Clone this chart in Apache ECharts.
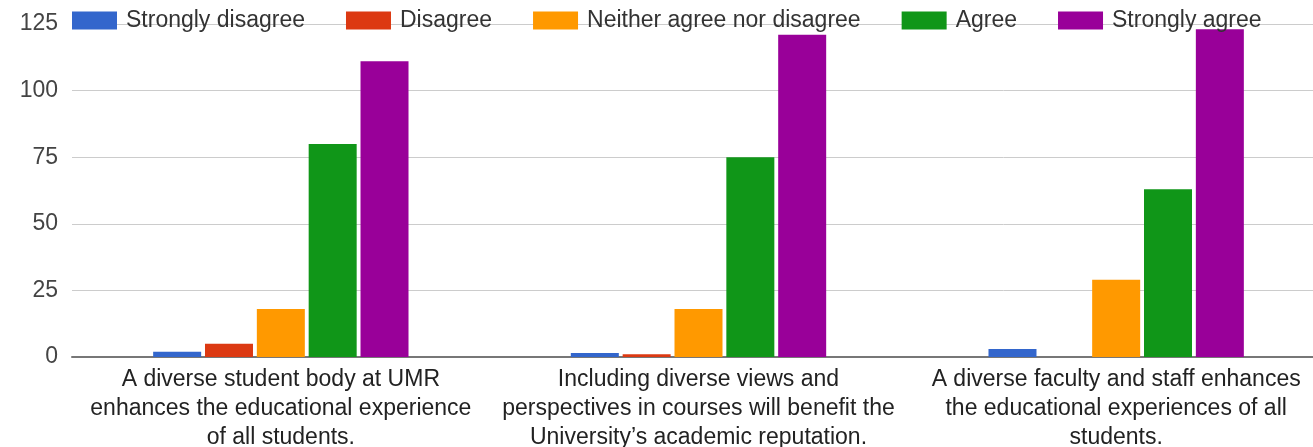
<!DOCTYPE html>
<html>
<head>
<meta charset="utf-8">
<script src="https://cdn.jsdelivr.net/npm/echarts@6/dist/echarts.min.js"></script>
<style>
  html, body { margin: 0; padding: 0; background: #fff; }
  #chart { width: 1313px; height: 447px; }
</style>
</head>
<body>
<div id="chart"></div>
<script>
// Survey statements (x-axis categories), with their line breaks
const categories = [
  'A diverse student body at UMR\nenhances the educational experience\nof all students.',
  'Including diverse views and\nperspectives in courses will benefit the\nUniversity\u2019s academic reputation.',
  'A diverse faculty and staff enhances\nthe educational experiences of all\nstudents.'
];

// Response counts per answer option
const stronglyDisagree = [2, 1.5, 3];
const disagree = [5, 1, 0];
const neither = [18, 18, 29];
const agree = [80, 75, 63];
const stronglyAgree = [111, 121, 123];

const seriesNames = ['Strongly disagree', 'Disagree', 'Neither agree nor disagree', 'Agree', 'Strongly agree'];
const seriesColors = ['#3366cc', '#dc3912', '#ff9900', '#109618', '#990099'];
const seriesData = [stronglyDisagree, disagree, neither, agree, stronglyAgree];

// Value axis ticks
const yMin = 0, yMax = 125, yStep = 25;

const FONT = 'Liberation Sans, Arial, sans-serif';

const chart = echarts.init(document.getElementById('chart'), null, { renderer: 'canvas' });

chart.setOption({
  animation: false,
  backgroundColor: '#fff',
  textStyle: { fontFamily: FONT },
  legend: {
    top: 9,
    left: 72,
    padding: 0,
    itemWidth: 45,
    itemHeight: 18,
    itemGap: 41,
    icon: 'rect',
    textStyle: { fontSize: 23, color: '#333', fontFamily: FONT, padding: [0, 0, 0, 4] },
    data: seriesNames
  },
  grid: {
    left: 72, top: 24, width: 1253, height: 333,
    containLabel: false,
    outerBoundsMode: 'none'
  },
  xAxis: {
    type: 'category',
    data: categories,
    axisTick: { show: false },
    axisLine: { lineStyle: { color: '#777', width: 2 } },
    axisLabel: {
      interval: 0,
      margin: 8,
      lineHeight: 29,
      fontSize: 23,
      color: '#222',
      fontFamily: FONT
    }
  },
  yAxis: {
    type: 'value',
    min: yMin,
    max: yMax,
    interval: yStep,
    axisLine: { show: false },
    axisTick: { show: false },
    axisLabel: { fontSize: 23, color: '#444', margin: 14, fontFamily: FONT },
    splitLine: { lineStyle: { color: '#cccccc', width: 1 } }
  },
  series: seriesNames.map((name, i) => ({
    name,
    type: 'bar',
    data: seriesData[i],
    barWidth: 48,
    barGap: '8%',
    itemStyle: { color: seriesColors[i] }
  }))
});
</script>
</body>
</html>
